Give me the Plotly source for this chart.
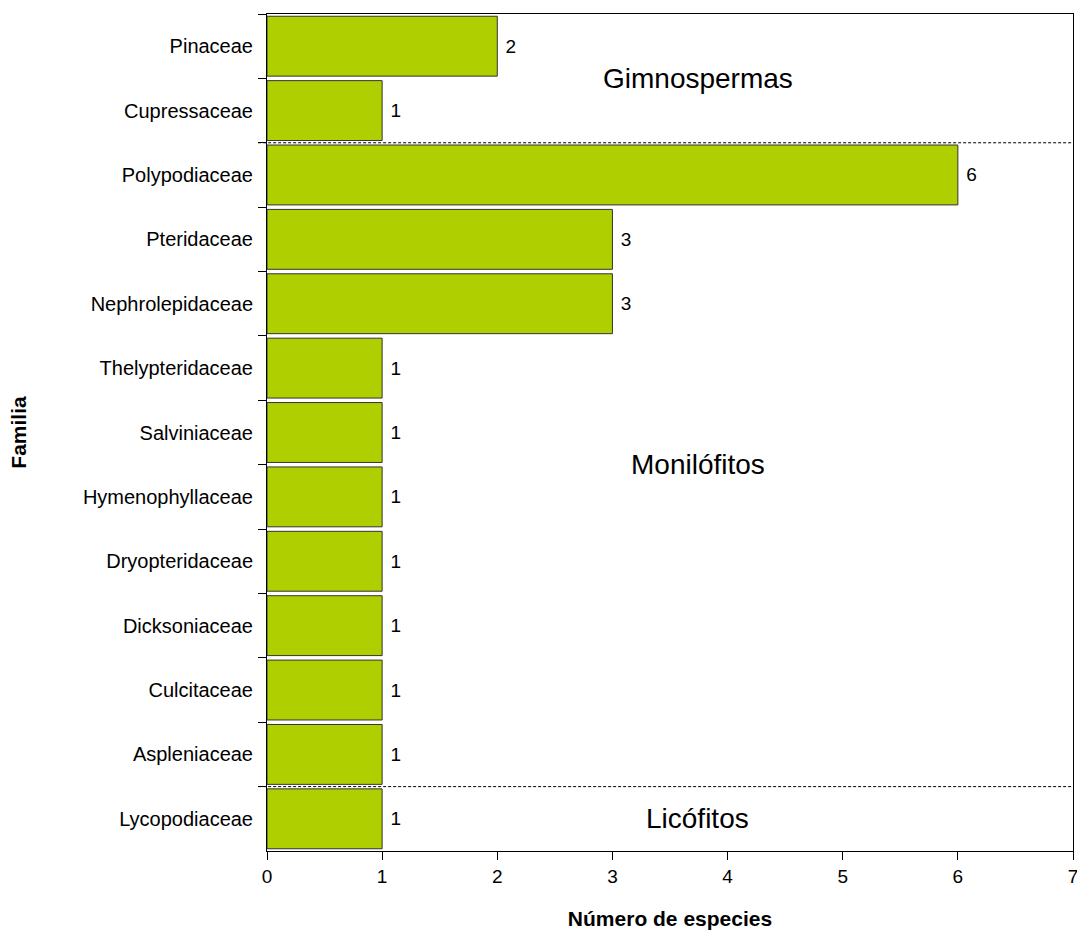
import plotly.graph_objects as go

familias = ['Pinaceae', 'Cupressaceae', 'Polypodiaceae', 'Pteridaceae',
            'Nephrolepidaceae', 'Thelypteridaceae', 'Salviniaceae',
            'Hymenophyllaceae', 'Dryopteridaceae', 'Dicksoniaceae',
            'Culcitaceae', 'Aspleniaceae', 'Lycopodiaceae']
especies = [2, 1, 6, 3, 3, 1, 1, 1, 1, 1, 1, 1, 1]

grupos = ['Gimnospermas', 'Monilófitos', 'Licófitos']
grupo_n = [2, 10, 1]  # number of families in each group, top to bottom

FONT = 'Arial, Liberation Sans, sans-serif'

fig = go.Figure()
fig.add_trace(go.Bar(
    x=especies, y=familias, orientation='h',
    width=0.93,
    marker=dict(color='#AFCF00', line=dict(color='#333333', width=1)),
    texttemplate=' %{x}', textposition='outside', cliponaxis=False,
    textfont=dict(size=19, color='black', family=FONT),
))

shapes = []
annotations = []
start = 0
for i, (g, n) in enumerate(zip(grupos, grupo_n)):
    annotations.append(dict(x=3.74, y=start + (n - 1) / 2, text=g,
                            showarrow=False, xref='x', yref='y',
                            font=dict(size=28, color='black', family=FONT)))
    start += n
    if i < len(grupos) - 1:
        shapes.append(dict(type='line', xref='paper', x0=-0.011, x1=1,
                           yref='y', y0=start - 0.5, y1=start - 0.5,
                           line=dict(color='black', width=1, dash='3px,2px')))

fig.update_layout(
    width=1077, height=935,
    margin=dict(l=267, r=4, t=14, b=84),
    plot_bgcolor='white', paper_bgcolor='white',
    showlegend=False,
    font=dict(family=FONT, size=20, color='black'),
    shapes=shapes, annotations=annotations,
    xaxis=dict(range=[0, 7], dtick=1, showgrid=False, zeroline=False,
               showline=True, linecolor='black', linewidth=1, mirror=True,
               ticks='outside', ticklen=8, tickcolor='black',
               tickfont=dict(size=19), automargin=False,
               ticklabeloverflow='allow',
               title=dict(text='<b>Número de especies</b>', standoff=25,
                          font=dict(size=21))),
    yaxis=dict(categoryorder='array', categoryarray=familias,
               autorange='reversed', showgrid=False,
               showline=True, linecolor='black', linewidth=1, mirror=True,
               ticks='outside', ticklen=8, tickcolor='black',
               tickson='boundaries', ticklabelstandoff=9,
               tickfont=dict(size=20), automargin=False,
               title=dict(text='<b>Familia</b>', standoff=50,
                          font=dict(size=21))),
)

# drop the default body margin so the figure sits at the page corner
fig.write_html('out.html', config={'displayModeBar': False},
               post_script="document.body.style.margin='0';")
